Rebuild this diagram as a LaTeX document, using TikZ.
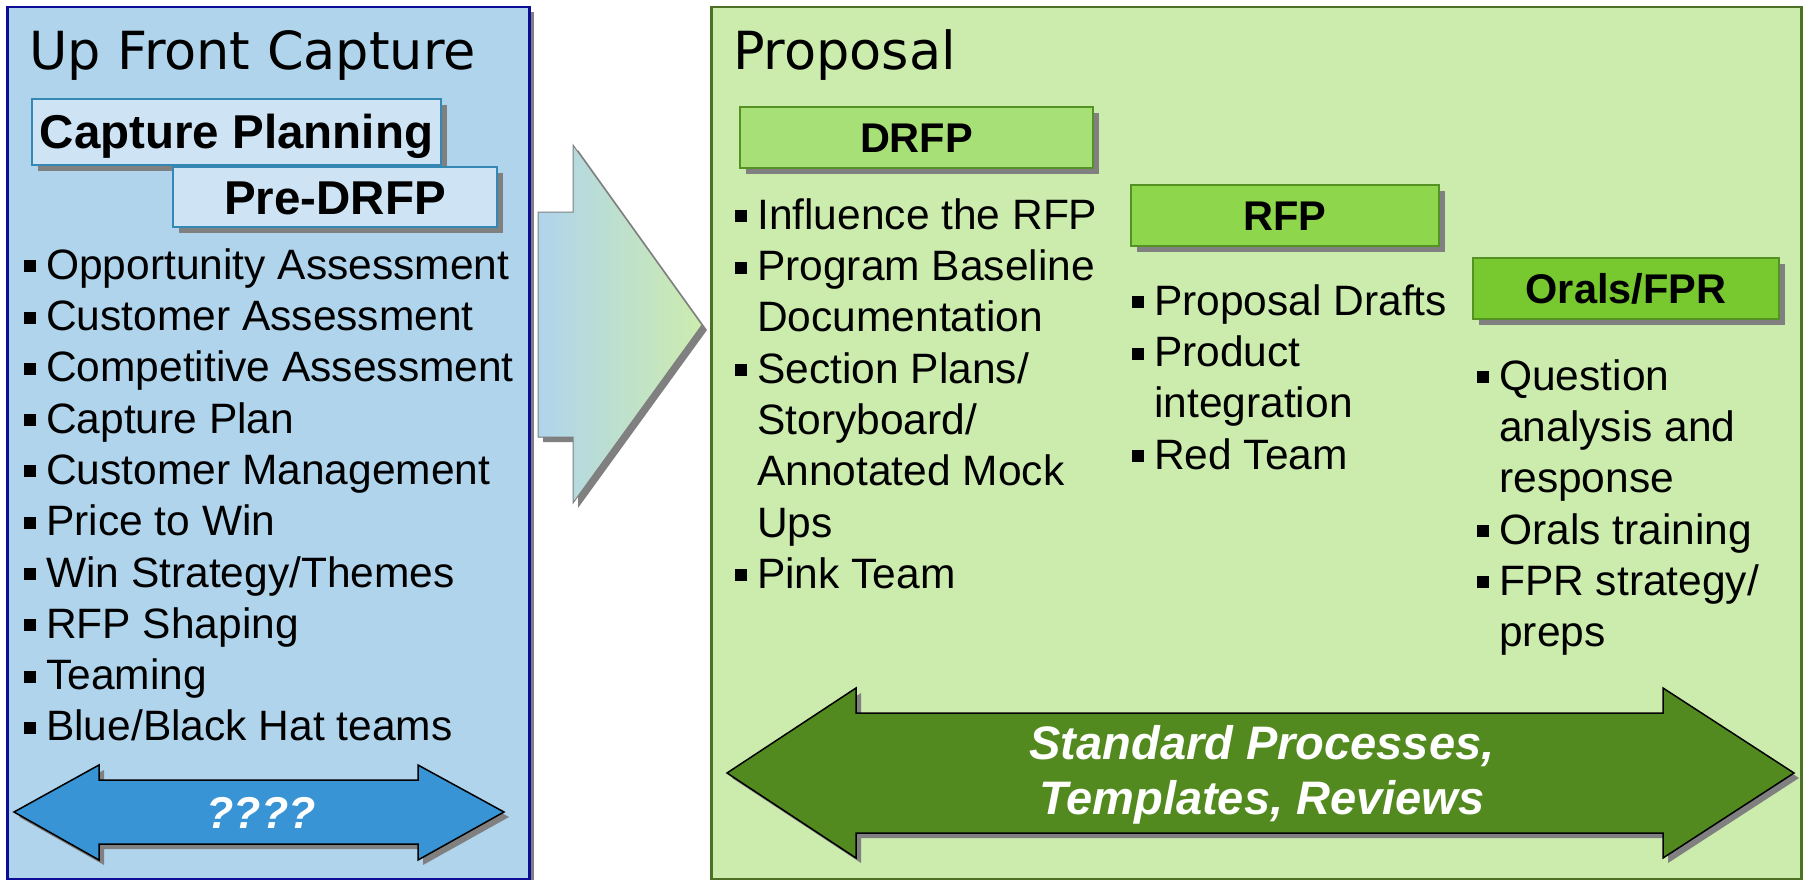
\documentclass[tikz,border=0pt]{standalone}
\usepackage{fontspec}
\setmainfont{Liberation Sans}
\newfontfamily\titlefont{DejaVu Sans}
\usetikzlibrary{shadows}

\definecolor{capfill}{RGB}{176,212,236}
\definecolor{capedge}{RGB}{12,12,150}
\definecolor{tagfill}{RGB}{206,228,244}
\definecolor{tagedge}{RGB}{52,136,180}
\definecolor{propfill}{RGB}{204,236,174}
\definecolor{propedge}{RGB}{76,112,36}
\definecolor{drfpfill}{RGB}{168,224,120}
\definecolor{rfpfill}{RGB}{142,214,76}
\definecolor{oralfill}{RGB}{120,200,48}
\definecolor{greenedge}{RGB}{84,146,36}
\definecolor{bluearrow}{RGB}{56,148,212}
\definecolor{greenarrow}{RGB}{82,138,32}
\definecolor{shadowgray}{RGB}{128,128,128}

% square bullet and matching indent for wrapped lines
\newcommand\sqbul{\makebox[22pt][l]{\raisebox{7pt}{\rule{12pt}{12pt}}}}
\newcommand\hang{\makebox[22pt]{}}

\begin{document}
\begin{tikzpicture}[x=1pt,y=-1pt,
  gshadow/.style={drop shadow={shadow xshift=#1, shadow yshift=-#1, opacity=1, fill=shadowgray}},
  panelbox/.style={rectangle, anchor=north west, inner sep=0pt, line width=2.5pt},
  heading/.style={anchor=base west, inner sep=0pt, font=\titlefont\fontsize{52.5}{62}\selectfont},
  tagbox/.style={rectangle, draw=tagedge, fill=tagfill, line width=1.8pt, inner sep=0pt,
     text height=34pt, text depth=0pt, font=\bfseries\fontsize{47.5}{57}\selectfont, gshadow=6pt},
  phasebox/.style={rectangle, draw=greenedge, line width=1.8pt, inner sep=0pt,
     minimum height=61pt, text height=29.7pt, text depth=0pt,
     font=\bfseries\fontsize{41.5}{50}\selectfont, gshadow=6pt},
  itemlist/.style={anchor=north west, inner sep=0pt, align=left,
     font=\fontsize{42.5}{51.3}\selectfont},
  blockarrow/.style={draw=black, line width=1.5pt, line join=miter, gshadow=5pt},
  arrowtext/.style={text=white, inner sep=0pt, font=\bfseries\itshape\fontsize{47}{55}\selectfont}
]
\useasboundingbox (0,0) rectangle (1804,880);

% ---- Up Front Capture panel ----
\node[panelbox, draw=capedge, fill=capfill, minimum width=522pt, minimum height=872pt,
      gshadow=5pt] (capture) at (6,6) {};
\node[heading] (capturetitle) at (29,70) {Up Front Capture};

\node[tagbox, minimum width=409pt, minimum height=66pt] (planning) at (236.5,132) {Capture Planning};
\node[tagbox, minimum width=324pt, minimum height=60pt] (predrfp) at (335,197) {Pre-DRFP};

\node[itemlist] (captureitems) at (24,243.1) {%
\strut\sqbul Opportunity Assessment\\
\strut\sqbul Customer Assessment\\
\strut\sqbul Competitive Assessment\\
\strut\sqbul Capture Plan\\
\strut\sqbul Customer Management\\
\strut\sqbul Price to Win\\
\strut\sqbul Win Strategy/Themes\\
\strut\sqbul RFP Shaping\\
\strut\sqbul Teaming\\
\strut\sqbul Blue/Black Hat teams};

% two-headed blue arrow
\filldraw[blockarrow, fill=bluearrow]
  (14,812) -- (99,765) -- (99,780) -- (418,780) -- (418,765) -- (504,812)
  -- (418,860) -- (418,844) -- (99,844) -- (99,860) -- cycle;
\node[arrowtext, anchor=base, font=\bfseries\itshape\fontsize{44.6}{54}\selectfont] (unknown) at (261,828) {????};

% ---- hand-over arrow between the phases ----
\filldraw[draw=shadowgray, line width=1pt, left color=capfill, right color=propfill, gshadow=5pt]
  (538,212) -- (573,212) -- (573,145) -- (702,325) -- (573,503) -- (573,437) -- (538,437) -- cycle;

% ---- Proposal panel ----
\node[panelbox, draw=propedge, fill=propfill, minimum width=1090pt, minimum height=872pt] (proposal) at (710,6) {};
\node[heading] (proposaltitle) at (733,70) {Proposal};

\node[phasebox, fill=drfpfill, minimum width=353pt] (drfp) at (916.5,137.5) {DRFP};
\node[phasebox, fill=rfpfill, minimum width=308pt] (rfp) at (1285,215.5) {RFP};
\node[phasebox, fill=oralfill, minimum width=306pt] (orals) at (1626,288.5) {Orals/FPR};

\node[itemlist] (drfpitems) at (735,193.1) {%
\strut\sqbul Influence the RFP\\
\strut\sqbul Program Baseline\\
\strut\hang Documentation\\
\strut\sqbul Section Plans/\\
\strut\hang Storyboard/\\
\strut\hang Annotated Mock\\
\strut\hang Ups\\
\strut\sqbul Pink Team};

\node[itemlist] (rfpitems) at (1132,279.1) {%
\strut\sqbul Proposal Drafts\\
\strut\sqbul Product\\
\strut\hang integration\\
\strut\sqbul Red Team};

\node[itemlist] (oralitems) at (1477,354.1) {%
\strut\sqbul Question\\
\strut\hang analysis and\\
\strut\hang response\\
\strut\sqbul Orals training\\
\strut\sqbul FPR strategy/\\
\strut\hang preps};

% two-headed green arrow
\filldraw[blockarrow, fill=greenarrow]
  (727,773) -- (856,688) -- (856,713) -- (1663,713) -- (1663,688) -- (1794,773)
  -- (1663,858) -- (1663,833) -- (856,833) -- (856,858) -- cycle;
\node[arrowtext, anchor=north, align=center] (standards) at (1262,720.5) {%
\strut Standard Processes,\\
\strut Templates, Reviews};
\end{tikzpicture}
\end{document}
